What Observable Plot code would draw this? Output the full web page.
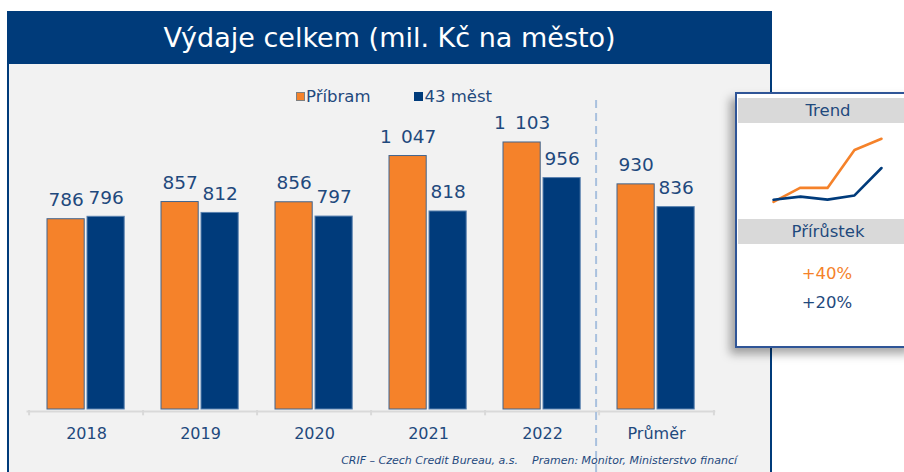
<!DOCTYPE html>
<html>
<head>
<meta charset="utf-8">
<script src="https://cdn.jsdelivr.net/npm/d3@7"></script>
<script src="https://cdn.jsdelivr.net/npm/@observablehq/plot@0.6"></script>
<style>
  html, body { margin: 0; padding: 0; }
  body { width: 904px; height: 472px; position: relative; overflow: hidden; background: #fff; font-family: "DejaVu Sans", Verdana, sans-serif; }
  .frame { position: absolute; left: 7px; top: 11px; width: 761px; height: 470px; background: #f2f2f2; border-left: 2px solid #003b7a; border-right: 2px solid #003b7a; }
  .titleband { position: absolute; left: 7px; top: 11px; width: 765px; height: 53px; background: #003b7a; color: #fff; font-size: 27px; text-align: center; line-height: 53px; }
  #chart { position: absolute; left: 0; top: 66px; }
  .legend { position: absolute; top: 86px; font-size: 16.5px; color: #1f497d; line-height: 22px; white-space: nowrap; }
  .legend .sw { display: inline-block; width: 9px; height: 9px; margin-right: 1px; vertical-align: 1px; box-sizing: border-box; }
  .panel { position: absolute; left: 735px; top: 92px; width: 176px; height: 252px; background: #fff; border: 2px solid #2f5597; box-shadow: -5px 6px 9px rgba(0,0,0,0.35); }
  .band { position: absolute; left: 1px; width: 180px; height: 25px; background: #d9d9d9; color: #1f497d; font-size: 16.5px; text-align: center; line-height: 25px; }
  .pct { position: absolute; left: 0; width: 180px; text-align: center; font-size: 16.5px; line-height: 20px; }
  #spark { position: absolute; left: 23px; top: 34px; }
  .footer { position: absolute; right: 167px; top: 454px; font-size: 11px; font-style: italic; color: #1f497d; white-space: pre; }
</style>
</head>
<body>
<div class="frame"></div>
<div class="titleband" id="title"></div>
<div id="chart"></div>
<div class="legend" id="legend"></div>
<div class="panel" id="panel">
  <div class="band" id="trendLabel" style="top:4px"></div>
  <div id="spark"></div>
  <div class="band" id="growthLabel" style="top:125px"></div>
  <div class="pct" id="g1" style="top:170px"></div>
  <div class="pct" id="g2" style="top:199px"></div>
</div>
<div class="footer" id="footer"></div>
<script>
const title = "Výdaje celkem (mil. Kč na město)";
const categories = ["2018", "2019", "2020", "2021", "2022", "Průměr"];
const seriesNames = ["Příbram", "43 měst"];
const pribram = [786, 857, 856, 1047, 1103, 930];
const mest43 = [796, 812, 797, 818, 956, 836];
const trendYears = ["2018", "2019", "2020", "2021", "2022"];
const trendPribram = [786, 857, 856, 1047, 1103];
const trendMest43 = [796, 812, 797, 818, 956];
const growthLabels = ["+40%", "+20%"];
const panelLabels = ["Trend", "Přírůstek"];
const footerText = "CRIF – Czech Credit Bureau, a.s.    Pramen: Monitor, Ministerstvo financí";

const ORANGE = "#f5822a", NAVY = "#003b7b", TEXT = "#1f497d";
const colors = [ORANGE, NAVY];

document.getElementById("title").textContent = title;
document.getElementById("trendLabel").textContent = panelLabels[0];
document.getElementById("growthLabel").textContent = panelLabels[1];
const g1 = document.getElementById("g1"); g1.textContent = growthLabels[0]; g1.style.color = ORANGE;
const g2 = document.getElementById("g2"); g2.textContent = growthLabels[1]; g2.style.color = TEXT;
document.getElementById("footer").textContent = footerText;

// legend
const legend = document.getElementById("legend");
legend.style.left = "296px";
seriesNames.forEach((name, i) => {
  const item = document.createElement("span");
  item.style.marginRight = i === 0 ? "44px" : "0";
  const sw = document.createElement("span");
  sw.className = "sw";
  sw.style.background = colors[i];
  sw.style.border = "1px solid " + (i === 0 ? "#7f7f7f" : NAVY);
  item.appendChild(sw);
  item.appendChild(document.createTextNode(name));
  legend.appendChild(item);
});

const fmt = d => d3.format(",")(d).replace(/,/g, "\u2002");

const rows = categories.map((c, i) => ({category: c, pribram: pribram[i], mest43: mest43[i]}));

const W = 770, H = 406, ML = 26.5, MR = 54.7;
const bw = (W - ML - MR) / categories.length;
const barW = 38;
const innerL = 18, gap = 2;

const chart = Plot.plot({
  width: W, height: H,
  marginLeft: ML, marginRight: MR, marginTop: 52.5, marginBottom: 63,
  style: {background: "transparent", fontFamily: "DejaVu Sans, Verdana, sans-serif", overflow: "visible"},
  x: {type: "band", domain: categories, padding: 0, axis: null},
  y: {domain: [0, 1200], axis: null},
  marks: [
    Plot.ruleY([0], {stroke: "#d9d9d9", strokeWidth: 2, dy: 2}),
    Plot.ruleX(categories, {x: d => d, dx: -bw / 2, y1: 0, y2: -22, stroke: "#d9d9d9", strokeWidth: 2, dy: 1}),
    Plot.ruleX([categories[categories.length - 1]], {x: d => d, dx: bw / 2, y1: 0, y2: -22, stroke: "#d9d9d9", strokeWidth: 2, dy: 1}),
    Plot.ruleX([categories[categories.length - 1]], {x: d => d, dx: -bw / 2 - 3, insetTop: -18.5, insetBottom: -63, stroke: "#a9c1de", strokeWidth: 2, strokeDasharray: "8,5"}),
    Plot.barY(rows, {x: "category", y: "pribram", fill: ORANGE, stroke: "#41658f", strokeWidth: 1, insetLeft: innerL, insetRight: bw - innerL - barW}),
    Plot.barY(rows, {x: "category", y: "mest43", fill: NAVY, stroke: "#5a82b0", strokeWidth: 1, insetLeft: innerL + barW + gap, insetRight: bw - innerL - 2 * barW - gap}),
    Plot.text(rows, {x: "category", y: "pribram", text: d => fmt(d.pribram), dx: -(bw / 2 - innerL - barW / 2), dy: -19, fill: TEXT, fontSize: 18.5}),
    Plot.text(rows, {x: "category", y: "mest43", text: d => fmt(d.mest43), dx: innerL + barW + gap + barW / 2 - bw / 2, dy: -19, fill: TEXT, fontSize: 18.5}),
    Plot.text(categories, {x: d => d, y: 0, text: d => d, dy: 24, fill: TEXT, fontSize: 16})
  ]
});
document.getElementById("chart").appendChild(chart);

// sparkline
const trendRows = [];
trendYears.forEach((y, i) => {
  trendRows.push({year: y, value: trendPribram[i], series: seriesNames[0]});
});
trendYears.forEach((y, i) => {
  trendRows.push({year: y, value: trendMest43[i], series: seriesNames[1]});
});
const spark = Plot.plot({
  width: 135, height: 85,
  marginLeft: 11.7, marginRight: 13.3, marginTop: 10.3, marginBottom: 11.7,
  style: {background: "transparent", overflow: "visible"},
  x: {type: "point", domain: trendYears, padding: 0, axis: null},
  y: {domain: [786, 1103], axis: null},
  color: {domain: seriesNames, range: colors},
  marks: [
    Plot.lineY(trendRows, {x: "year", y: "value", stroke: "series", z: "series", strokeWidth: 2.6})
  ]
});
document.getElementById("spark").appendChild(spark);
</script>
</body>
</html>
